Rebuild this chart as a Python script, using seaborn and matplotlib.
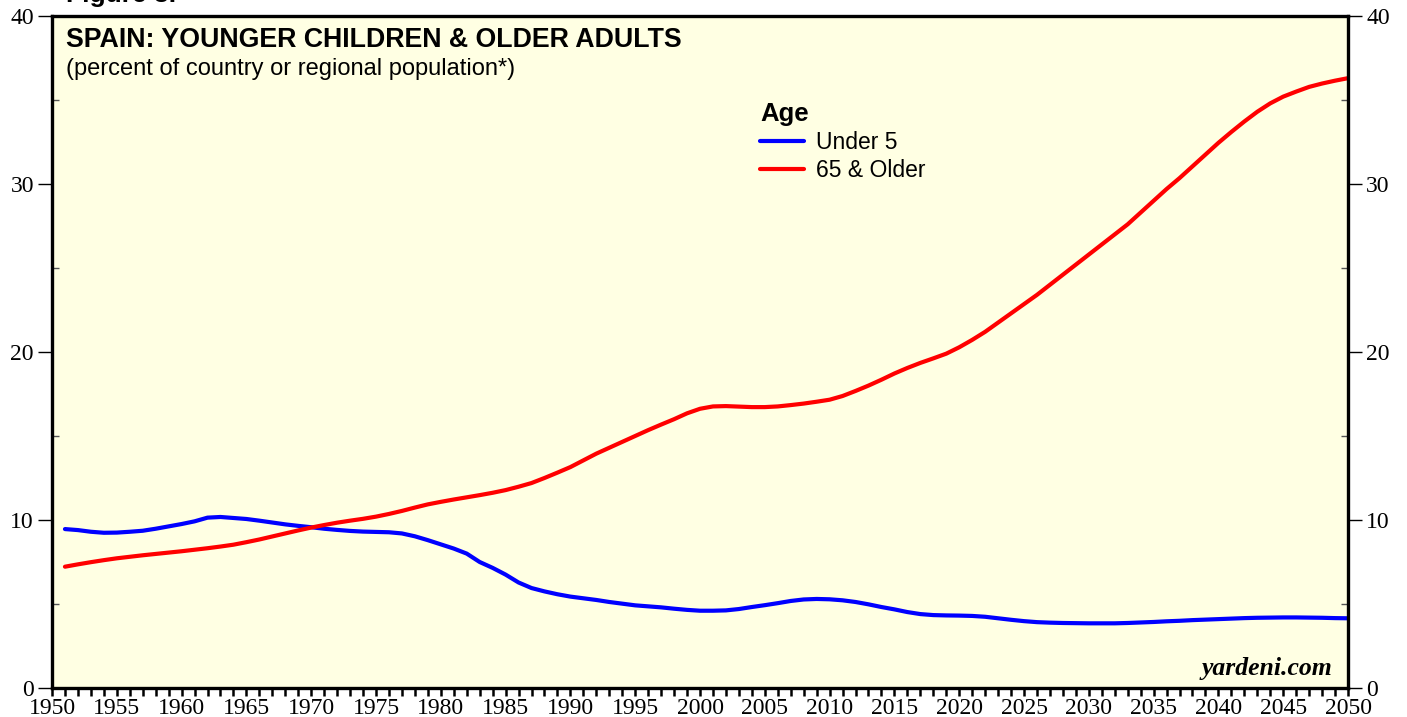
import numpy as np
import pandas as pd
import matplotlib
matplotlib.use("Agg")
import matplotlib.pyplot as plt
from matplotlib.ticker import MultipleLocator
import seaborn as sns

years = list(range(1951, 2051))

under5 = [
    9.46, 9.40, 9.30, 9.24, 9.25, 9.30, 9.36, 9.48, 9.62, 9.76,
    9.92, 10.14, 10.18, 10.12, 10.06, 9.96, 9.85, 9.74, 9.65, 9.57,
    9.48, 9.41, 9.35, 9.31, 9.29, 9.27, 9.20, 9.03, 8.80, 8.55,
    8.30, 8.00, 7.50, 7.15, 6.75, 6.28, 5.95, 5.75, 5.58, 5.44,
    5.34, 5.24, 5.12, 5.02, 4.92, 4.86, 4.80, 4.72, 4.65, 4.60,
    4.60, 4.62, 4.70, 4.82, 4.93, 5.05, 5.18, 5.27, 5.30, 5.28,
    5.22, 5.12, 4.98, 4.82, 4.68, 4.52, 4.40, 4.34, 4.32, 4.31,
    4.29, 4.24, 4.15, 4.06, 3.98, 3.92, 3.89, 3.87, 3.86, 3.85,
    3.85, 3.85, 3.87, 3.90, 3.93, 3.97, 4.00, 4.04, 4.07, 4.10,
    4.13, 4.16, 4.18, 4.19, 4.20, 4.20, 4.19, 4.18, 4.16, 4.15,
]

older65 = [
    7.22, 7.36, 7.49, 7.61, 7.72, 7.81, 7.90, 7.98, 8.06, 8.14,
    8.23, 8.32, 8.42, 8.53, 8.68, 8.84, 9.02, 9.20, 9.38, 9.55,
    9.70, 9.84, 9.96, 10.07, 10.20, 10.36, 10.54, 10.74, 10.93, 11.08,
    11.22, 11.35, 11.48, 11.62, 11.78, 11.98, 12.20, 12.50, 12.82, 13.15,
    13.55, 13.95, 14.30, 14.65, 15.00, 15.35, 15.68, 16.00, 16.35, 16.62,
    16.76, 16.78, 16.75, 16.72, 16.72, 16.76, 16.84, 16.93, 17.04, 17.16,
    17.38, 17.68, 18.00, 18.35, 18.72, 19.05, 19.35, 19.62, 19.90, 20.28,
    20.72, 21.20, 21.75, 22.30, 22.85, 23.40, 24.00, 24.60, 25.20, 25.80,
    26.40, 27.00, 27.60, 28.30, 29.00, 29.70, 30.35, 31.05, 31.75, 32.45,
    33.10, 33.72, 34.30, 34.80, 35.20, 35.50, 35.78, 35.98, 36.15, 36.30,
]

series_names = ["Under 5", "65 & Older"]
series_colors = ["#0000FF", "#FF0000"]
x_tick_labels = [str(y) for y in range(1950, 2051, 5)]
y_tick_labels = ["0", "10", "20", "30", "40"]

title = "SPAIN: YOUNGER CHILDREN & OLDER ADULTS"
subtitle = "(percent of country or regional population*)"

df = pd.DataFrame({
    "Year": years * 2,
    "Value": under5 + older65,
    "Age": [series_names[0]] * len(years) + [series_names[1]] * len(years),
})

sns.set_style("ticks")
plt.rcParams["font.family"] = ["Liberation Sans", "DejaVu Sans"]
plt.rcParams["text.color"] = "black"
plt.rcParams["xtick.color"] = "black"
plt.rcParams["ytick.color"] = "black"
plt.rcParams["axes.labelcolor"] = "black"

W, H = 1407, 717
fig = plt.figure(figsize=(W / 100, H / 100), dpi=100)
ax = fig.add_axes([52 / W, (H - 688) / H, (1348 - 52) / W, (688 - 16) / H])
ax.set_facecolor("#FFFFE3")

sns.lineplot(data=df, x="Year", y="Value", hue="Age",
             palette=dict(zip(series_names, series_colors)),
             linewidth=3.0, ax=ax, legend=True)

ax.set_xlim(1950, 2050)
ax.set_ylim(0, 40)
ax.set_xlabel("")
ax.set_ylabel("")

for s in ax.spines.values():
    s.set_visible(True)
    s.set_color("black")
    s.set_linewidth(2.4)

serif = ["Liberation Serif", "DejaVu Serif"]
ax.set_xticks(list(range(1950, 2051, 5)))
ax.set_xticklabels(x_tick_labels, fontfamily=serif, fontsize=17)
ax.xaxis.set_minor_locator(MultipleLocator(1))
ax.tick_params(axis="x", which="both", direction="out", length=6, width=1.8,
               color="black", pad=1, top=False)

ax.set_yticks([0, 10, 20, 30, 40])
ax.set_yticklabels(y_tick_labels, fontfamily=serif, fontsize=17)
ax.yaxis.set_minor_locator(MultipleLocator(5))
ax.tick_params(axis="y", which="major", direction="out", length=10, width=1.0,
               color="black", pad=3, left=True, right=True,
               labelleft=True, labelright=True)
ax.tick_params(axis="y", which="minor", direction="in", length=5, width=1.0,
               color="#555555", left=True, right=True)

ax.text(0.011, 0.984, title, transform=ax.transAxes, ha="left", va="top",
        fontsize=19.3, fontweight="bold", color="black")
ax.text(0.011, 0.938, subtitle, transform=ax.transAxes, ha="left", va="top",
        fontsize=17, color="black")

leg = ax.legend(loc="upper left", bbox_to_anchor=((751 - 52) / 1296, (688 - 93) / 672),
                frameon=False, title="Age", fontsize=16.5, handlelength=1.9,
                handletextpad=0.55, labelspacing=0.22, borderaxespad=0)
leg.get_title().set_fontsize(18.5)
leg.get_title().set_fontweight("bold")
leg.get_title().set_color("black")
for t in leg.get_texts():
    t.set_color("black")
leg._legend_box.align = "left"
for line in leg.get_lines():
    line.set_linewidth(3.0)

ax.text(0.988, 0.012, "yardeni.com", transform=ax.transAxes, ha="right",
        va="bottom", fontsize=18.5, fontstyle="italic", fontweight="bold",
        fontfamily=serif, color="black")

fig.text(66 / W, 1 - 2 / H, "Figure 3.", ha="left", va="baseline",
         fontsize=19, fontweight="bold", color="black")

fig.savefig("out.png", dpi=100, facecolor="white")
